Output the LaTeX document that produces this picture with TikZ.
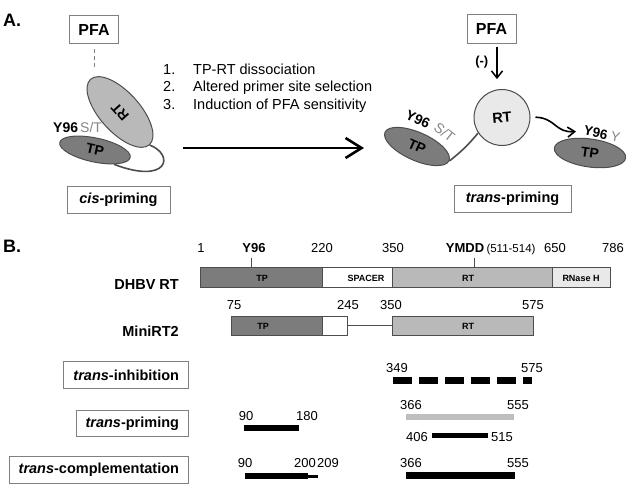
\documentclass[tikz,border=0pt]{standalone}
\usepackage{fontspec}
\setmainfont{Liberation Sans}
\usetikzlibrary{shapes.geometric,arrows.meta}

\definecolor{tpgray}{HTML}{7C7C7C}
\definecolor{rtgray}{HTML}{B9B9B9}
\definecolor{rnhgray}{HTML}{E9E9E9}
\definecolor{edgegray}{HTML}{4D4D4D}
\definecolor{boxgray}{HTML}{808080}
\definecolor{stgray}{HTML}{858585}
\definecolor{lightbar}{HTML}{BEBEBE}

\tikzset{
  every node/.style={inner sep=0pt},
  lbl/.style={font=\fontsize{14.5}{17}\selectfont},
  num/.style={font=\fontsize{13}{15}\selectfont},
  bnum/.style={font=\fontsize{13}{15}\selectfont\bfseries},
  namebox/.style={draw=boxgray, line width=1pt, fill=white, inner xsep=9.5pt,
    minimum height=26.5pt, font=\fontsize{14.5}{17}\selectfont\bfseries},
  pfabox/.style={namebox, inner xsep=0pt, minimum width=49pt, minimum height=28.5pt,
    font=\fontsize{16}{18}\selectfont\bfseries},
  lobe/.style={ellipse, draw=edgegray, line width=1pt, font=\fontsize{14}{16}\selectfont\bfseries},
  seg/.style={draw=edgegray, line width=1pt},
  seglbl/.style={font=\fontsize{9}{10}\selectfont\bfseries},
  link/.style={draw=edgegray, line width=1.6pt},
  site/.style={font=\fontsize{14}{16}\selectfont\bfseries},
  subst/.style={font=\fontsize{14}{16}\selectfont, text=stgray},
}

\begin{document}
\begin{tikzpicture}[x=1pt,y=-1pt]
\useasboundingbox (0,0) rectangle (626,486);

% ---- A: cis-priming
\node[font=\fontsize{18}{20}\selectfont\bfseries, anchor=west] (labA) at (3,20) {A.};
\node[pfabox] (pfaL) at (94,29.5) {PFA};
\node[lobe, fill=rtgray, minimum width=88pt, minimum height=40pt, rotate=132] (rtL) at (120,112) {RT};
\node[lobe, fill=tpgray, minimum width=72pt, minimum height=24pt, rotate=-12] (tpL) at (95,150) {TP};
\draw[draw=boxgray, line width=1pt, dash pattern=on 4pt off 3pt, shorten <=5pt, shorten >=11pt]
  (pfaL.south) -- (pfaL.south |- rtL.east);
\draw[link] (rtL.west) .. controls (175,155) and (168,185) .. (tpL.-25);
\node[site, anchor=base west] (y96L) at (53,132.5) {Y96};
\node[subst, anchor=base west] (stL) at (80,132.5) {S/T};
\node[namebox, inner xsep=0pt, minimum width=103pt] (cisbox) at (118.5,200) {\textit{cis}-priming};

% steps
\foreach \txt [count=\i] in {TP-RT dissociation, Altered primer site selection, Induction of PFA sensitivity} {
  \node[lbl, anchor=base west] (nr\i) at (163,56.5+17.6*\i) {\i.};
  \node[lbl, anchor=base west] (step\i) at (193,56.5+17.6*\i) {\txt};
}
\coordinate (arrS) at (183,148);
\coordinate (arrE) at (364,148);
\draw[line width=2.6pt, -{Straight Barb[length=16pt,width=20pt]}] (arrS) -- (arrE);

% ---- A: trans-priming
\node[pfabox] (pfaR) at (491.5,29) {PFA};
\node[circle, draw=edgegray, line width=1pt, fill=rnhgray, minimum size=56pt,
  font=\fontsize{14.5}{16}\selectfont\bfseries, rotate=5] (rtR) at (502,117.5) {RT};
\draw[line width=1.5pt, -{Straight Barb[length=7pt,width=11pt]}, shorten <=3pt, shorten >=10pt]
  ([xshift=5.5pt]pfaR.south) -- ([xshift=5.5pt]pfaR.south |- rtR.north)
  node[pos=0.4, left=8pt, bnum] {(-)};
\node[lobe, fill=tpgray, minimum width=70pt, minimum height=28pt, rotate=-24] (tpA) at (417,146.5) {TP};
\node[lobe, fill=tpgray, minimum width=72pt, minimum height=28pt, rotate=-8] (tpB) at (590,153) {TP};
\draw[link] (tpA.east) to[bend right=6] (rtR.208);
\node[site, rotate=-25] (y96A) at (418,119) {Y96};
\node[subst, rotate=-38] (stA) at (444.5,132.5) {S/T};
\coordinate (wvE) at (576,131.5);
\draw[line width=1.6pt, -{Straight Barb[length=7pt,width=10pt]}, shorten <=5pt]
  (rtR.-4) .. controls (556,118) and (555,133) .. (wvE);
\node[font=\fontsize{13.5}{15}\selectfont, rotate=-12] (y96B) at (602,134)
  {\textbf{Y96} \textcolor{stgray}{Y}};
\node[namebox, inner xsep=0pt, minimum width=117pt] (transbox) at (512.5,199) {\textit{trans}-priming};

% ---- B: maps
\node[font=\fontsize{18}{20}\selectfont\bfseries, anchor=west] (labB) at (3,246) {B.};

\node[num, anchor=base] at (201,253) {1};
\node[bnum, anchor=base] at (254,253) {Y96};
\node[num, anchor=base] at (322,253) {220};
\node[num, anchor=base] at (393,253) {350};
\node[bnum, anchor=base] at (465,253) {YMDD};
\node[font=\fontsize{11.5}{13}\selectfont, anchor=base] at (511,253) {(511-514)};
\node[num, anchor=base] at (555,253) {650};
\node[num, anchor=base] at (613,253) {786};

\draw[seg] (251,258) -- (251,268);
\draw[seg] (474,258) -- (474,268);
\foreach \xa/\xb/\col in {200/322/tpgray, 322/392/white, 392/552/rtgray, 552/610/rnhgray}
  \draw[seg, fill=\col] (\xa,268) rectangle (\xb,287);
\node[seglbl] at (262,278) {TP};
\node[seglbl] at (366,278) {SPACER};
\node[seglbl] at (468,278) {RT};
\node[seglbl] at (581,278) {RNase H};
\node[lbl, font=\fontsize{14.5}{17}\selectfont\bfseries, anchor=base east] (dhbv) at (179,289) {DHBV RT};

\node[num, anchor=base] at (234,309) {75};
\node[num, anchor=base] at (348,309) {245};
\node[num, anchor=base] at (391,309) {350};
\node[num, anchor=base] at (533,309) {575};
\foreach \xa/\xb/\col in {231/322/tpgray, 322/347/white, 392/533/rtgray}
  \draw[seg, fill=\col] (\xa,316) rectangle (\xb,335);
\draw[seg] (347,325) -- (392,325);
\node[seglbl] at (263,326) {TP};
\node[seglbl] at (468,326) {RT};
\node[lbl, font=\fontsize{14.5}{17}\selectfont\bfseries, anchor=base east] (mini) at (179,336) {MiniRT2};

% trans-inhibition
\node[namebox, anchor=east] (tinh) at (189,375) {\textit{trans}-inhibition};
\draw[line width=7pt, dash pattern=on 19pt off 7pt] (393,380) -- (532,380);
\node[num, anchor=base] at (397,372) {349};
\node[num, anchor=base] at (532,372) {575};

% trans-priming
\node[namebox, anchor=east] (tpri) at (189,423.5) {\textit{trans}-priming};
\draw[line width=6pt] (244,428) -- (299,428);
\node[num, anchor=base] at (246,420) {90};
\node[num, anchor=base] at (307,420) {180};
\draw[line width=6pt, draw=lightbar] (406,417) -- (514,417);
\node[num, anchor=base] at (411,409.5) {366};
\node[num, anchor=base] at (518,409.5) {555};
\draw[line width=5.5pt] (432,435.5) -- (488,435.5);
\node[num, anchor=base] at (417,441) {406};
\node[num, anchor=base] at (502,441) {515};

% trans-complementation
\node[namebox, anchor=east] (tcom) at (189,470) {\textit{trans}-complementation};
\draw[line width=6pt] (245,475.5) -- (308,475.5);
\draw[line width=3pt] (308,476) -- (318,476);
\node[num, anchor=base] at (245,467) {90};
\node[num, anchor=base] at (305,467) {200};
\node[num, anchor=base] at (328,467) {209};
\draw[line width=7pt] (406,475.5) -- (515,475.5);
\node[num, anchor=base] at (411,467) {366};
\node[num, anchor=base] at (518,467) {555};
\end{tikzpicture}
\end{document}
